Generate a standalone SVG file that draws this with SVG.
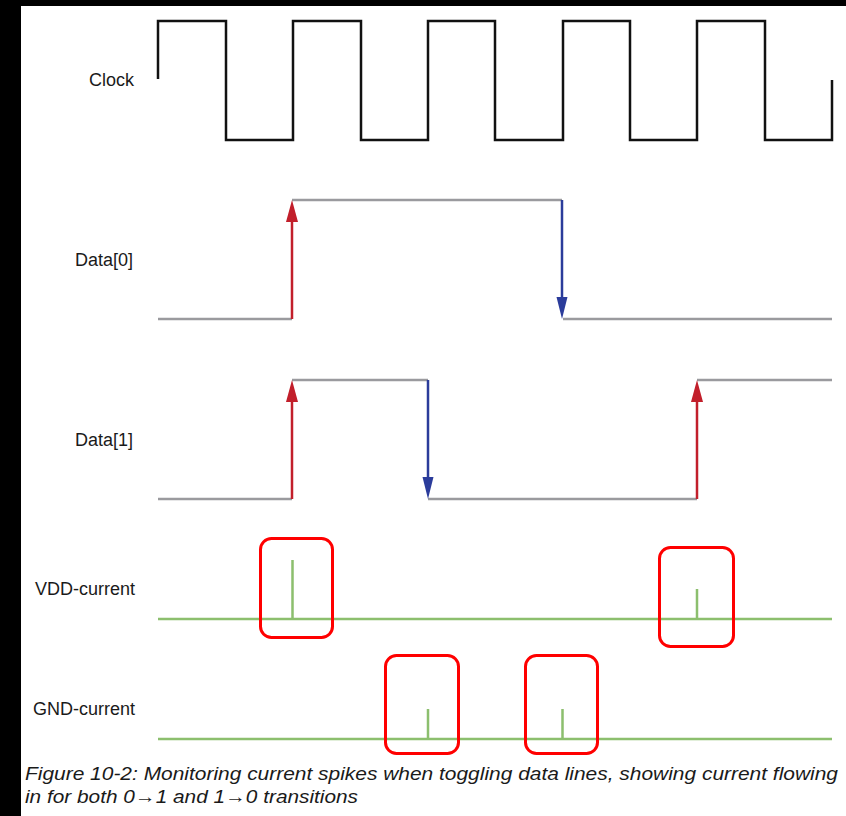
<svg xmlns="http://www.w3.org/2000/svg" width="846" height="816" viewBox="0 0 846 816">
  <style>
    .label { font-family: "Liberation Sans", Arial, sans-serif; font-size: 18px; fill: #1a1a1a; }
    .caption { font-family: "Liberation Sans", Arial, sans-serif; font-size: 19px; font-style: italic; fill: #1a1a1a; }
    .clk { fill: none; stroke: #111; stroke-width: 2.5; stroke-linejoin: miter; }
    .sig { fill: none; stroke: #9a9a9e; stroke-width: 2.5; }
    .cur { fill: none; stroke: #8cbf6e; stroke-width: 2.5; }
    .rise { stroke: #c21f2b; stroke-width: 2.5; marker-end: url(#headRed); }
    .fall { stroke: #2b3c9b; stroke-width: 2.5; marker-end: url(#headBlue); }
    .mark { fill: none; stroke: #ff0000; stroke-width: 3; }
  </style>
  <defs>
    <marker id="headRed" markerUnits="userSpaceOnUse" markerWidth="24" markerHeight="14" viewBox="0 0 24 14" refX="14" refY="7" orient="auto">
      <path d="M0,1 L22,7 L0,13 z" fill="#c21f2b"/>
    </marker>
    <marker id="headBlue" markerUnits="userSpaceOnUse" markerWidth="24" markerHeight="14" viewBox="0 0 24 14" refX="14" refY="7" orient="auto">
      <path d="M0,1.5 L22,7 L0,12.5 z" fill="#2b3c9b"/>
    </marker>
  </defs>

  <rect width="846" height="816" fill="#ffffff"/>
  <!-- frame edges -->
  <rect x="0" y="0" width="21" height="816" fill="#000"/>
  <rect x="0" y="0" width="846" height="6" fill="#000"/>

  <g id="clock">
    <text class="label" x="134" y="86" text-anchor="end">Clock</text>
    <path class="clk" d="M158,79 V21 H226 V140 H293 V21 H361 V140 H428 V21 H495 V140 H563 V21 H630 V140 H697 V21 H765 V140 H832 V80"/>
  </g>

  <g id="data0">
    <text class="label" x="133" y="266" text-anchor="end">Data[0]</text>
    <path class="sig" d="M158,319 H292 M292,200 H562 M563,319 H832"/>
  </g>

  <g id="data1">
    <text class="label" x="133" y="446" text-anchor="end">Data[1]</text>
    <path class="sig" d="M158,499 H292 M292,380 H428 M428,499 H697 M697,380 H832"/>
  </g>

  <g id="vdd-current">
    <text class="label" x="135" y="595" text-anchor="end">VDD-current</text>
    <path class="cur" d="M158,619 H832 M292.5,560 V619 M697,589 V619"/>
    <rect class="mark" x="260.5" y="538.5" width="72" height="99" rx="11"/>
    <rect class="mark" x="659.5" y="547.5" width="74" height="99" rx="11"/>
  </g>

  <g id="gnd-current">
    <text class="label" x="135" y="715" text-anchor="end">GND-current</text>
    <path class="cur" d="M158,739 H832 M428,709 V739 M562.5,709 V739"/>
    <rect class="mark" x="385.5" y="655.5" width="73" height="98" rx="11"/>
    <rect class="mark" x="525.5" y="655.5" width="72" height="98" rx="11"/>
  </g>

  <g id="connectors">
    <!-- rising edges -->
    <line class="rise" x1="292" y1="319" x2="292" y2="208"/>
    <line class="rise" x1="292" y1="499" x2="292" y2="388"/>
    <line class="rise" x1="697" y1="499" x2="697" y2="388"/>
    <!-- falling edges -->
    <line class="fall" x1="562" y1="200" x2="562" y2="311"/>
    <line class="fall" x1="428" y1="380" x2="428" y2="491"/>
  </g>

  <g id="caption">
    <text class="caption" x="25" y="780" textLength="813" lengthAdjust="spacingAndGlyphs">Figure 10-2: Monitoring current spikes when toggling data lines, showing current flowing</text>
    <text class="caption" x="25" y="803" textLength="333" lengthAdjust="spacingAndGlyphs">in for both 0→1 and 1→0 transitions</text>
  </g>
</svg>
